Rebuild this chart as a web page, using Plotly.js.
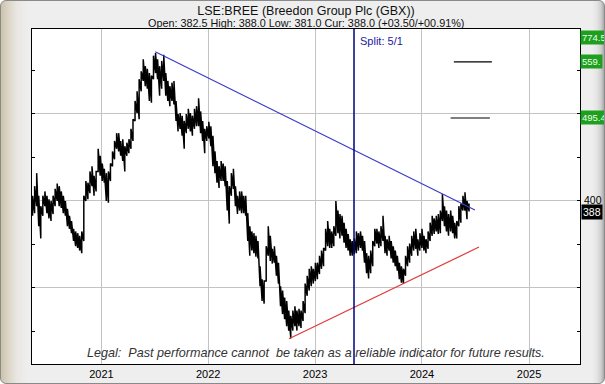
<!DOCTYPE html>
<html>
<head>
<meta charset="utf-8">
<script src="https://cdn.plot.ly/plotly-3.0.1.min.js"></script>
<style>
html,body{margin:0;padding:0;}
#frame{position:relative;width:605px;height:384px;box-sizing:border-box;border:1px solid #8a8a8a;border-radius:6px;overflow:hidden;
background:
 linear-gradient(to left,#a8a8a8 0px,#cfcfcf 3px,#e4e4e4 7px,rgba(238,238,238,0) 12px),
 linear-gradient(to right,#cdc3ab 0px,#ddd7c9 8px,#e9e7e2 16px,#eeeeee 26px,#eeeeee 100%);}
#chart{position:absolute;left:0;top:0;width:605px;height:384px;}
</style>
</head>
<body>
<div id="frame"><div id="chart"></div></div>
<script>
const weekDates = [
'2020-05-11','2020-05-18','2020-05-25','2020-06-01','2020-06-08','2020-06-15','2020-06-22','2020-06-29',
'2020-07-06','2020-07-13','2020-07-20','2020-07-27','2020-08-03','2020-08-10','2020-08-17','2020-08-24','2020-08-31',
'2020-09-07','2020-09-14','2020-09-21','2020-09-28','2020-10-05','2020-10-12','2020-10-19','2020-10-26',
'2020-11-02','2020-11-09','2020-11-16','2020-11-23','2020-11-30','2020-12-07','2020-12-14','2020-12-21','2020-12-28',
'2021-01-04','2021-01-11','2021-01-18','2021-01-25','2021-02-01','2021-02-08','2021-02-15','2021-02-22',
'2021-03-01','2021-03-08','2021-03-15','2021-03-22','2021-03-29','2021-04-05','2021-04-12','2021-04-19','2021-04-26',
'2021-05-03','2021-05-10','2021-05-17','2021-05-24','2021-05-31','2021-06-07','2021-06-14','2021-06-21','2021-06-28',
'2021-07-05','2021-07-12','2021-07-19','2021-07-26','2021-08-02','2021-08-09','2021-08-16','2021-08-23','2021-08-30',
'2021-09-06','2021-09-13','2021-09-20','2021-09-27','2021-10-04','2021-10-11','2021-10-18','2021-10-25',
'2021-11-01','2021-11-08','2021-11-15','2021-11-22','2021-11-29','2021-12-06','2021-12-13','2021-12-20','2021-12-27',
'2022-01-03','2022-01-10','2022-01-17','2022-01-24','2022-01-31','2022-02-07','2022-02-14','2022-02-21','2022-02-28',
'2022-03-07','2022-03-14','2022-03-21','2022-03-28','2022-04-04','2022-04-11','2022-04-18','2022-04-25',
'2022-05-02','2022-05-09','2022-05-16','2022-05-23','2022-05-30','2022-06-06','2022-06-13','2022-06-20','2022-06-27',
'2022-07-04','2022-07-11','2022-07-18','2022-07-25','2022-08-01','2022-08-08','2022-08-15','2022-08-22','2022-08-29',
'2022-09-05','2022-09-12','2022-09-19','2022-09-26','2022-10-03','2022-10-10','2022-10-17','2022-10-24','2022-10-31',
'2022-11-07','2022-11-14','2022-11-21','2022-11-28','2022-12-05','2022-12-12','2022-12-19','2022-12-26',
'2023-01-02','2023-01-09','2023-01-16','2023-01-23','2023-01-30','2023-02-06','2023-02-13','2023-02-20','2023-02-27',
'2023-03-06','2023-03-13','2023-03-20','2023-03-27','2023-04-03','2023-04-10','2023-04-17','2023-04-24',
'2023-05-01','2023-05-08','2023-05-15','2023-05-22','2023-05-29','2023-06-05','2023-06-12','2023-06-19','2023-06-26',
'2023-07-03','2023-07-10','2023-07-17','2023-07-24','2023-07-31','2023-08-07','2023-08-14','2023-08-21','2023-08-28',
'2023-09-04','2023-09-11','2023-09-18','2023-09-25','2023-10-02','2023-10-09','2023-10-16','2023-10-23','2023-10-30',
'2023-11-06','2023-11-13','2023-11-20','2023-11-27','2023-12-04','2023-12-11','2023-12-18','2023-12-25',
'2024-01-01','2024-01-08','2024-01-15','2024-01-22','2024-01-29','2024-02-05','2024-02-12','2024-02-19','2024-02-26',
'2024-03-04','2024-03-11','2024-03-18','2024-03-25','2024-04-01','2024-04-08','2024-04-15','2024-04-22','2024-04-29',
'2024-05-06','2024-05-13','2024-05-20','2024-05-27','2024-06-03','2024-06-10'
];
const weekHigh = [
406,417,432,406,394,406,411,406,402,400,
406,414,420,417,411,406,400,391,383,377,
368,365,363,360,365,406,423,421,434,440,
429,434,460,452,443,437,432,434,443,457,
469,478,478,469,471,463,467,471,483,494,
515,526,540,549,563,555,552,547,544,567,
570,563,555,561,568,547,538,532,536,538,
515,500,501,498,492,500,506,501,498,506,
509,518,503,492,483,486,491,486,475,457,
446,440,446,443,440,423,417,432,437,417,
406,411,411,406,406,386,371,365,363,360,
354,325,310,308,348,371,360,345,348,337,
329,302,297,289,285,274,268,274,279,274,
276,274,285,305,314,322,325,322,329,329,
337,343,346,368,377,368,365,371,400,389,
385,383,375,368,362,356,354,357,365,363,
365,360,354,340,337,343,354,368,368,365,
371,383,360,356,360,354,348,343,337,329,
325,322,337,348,351,360,365,368,356,363,
368,360,356,365,375,383,380,383,385,389,
408,394,389,385,389,383,375,377,394,397,
406,410,400,397
];
const weekLow = [
383,386,394,371,357,383,394,386,380,377,
385,394,400,394,392,386,383,371,368,363,
354,348,346,343,340,354,400,402,409,417,
406,411,434,429,423,421,400,398,423,440,
448,460,457,452,446,434,452,455,460,469,
492,501,494,526,538,532,529,515,513,540,
547,540,521,529,538,521,515,509,515,511,
492,480,483,475,460,478,483,480,475,483,
486,486,478,469,455,469,472,463,440,432,
421,415,423,423,417,389,374,406,414,394,
385,389,386,386,383,354,337,343,340,336,
334,302,285,282,308,337,331,328,329,314,
305,279,270,264,256,251,242,251,256,251,
256,254,262,271,291,297,302,305,308,310,
316,322,325,343,348,346,346,348,360,363,
357,360,352,346,343,337,337,339,340,343,
346,343,329,317,311,317,325,348,351,346,
348,354,340,337,343,334,329,325,320,310,
306,305,314,325,329,337,343,345,337,343,
346,343,340,345,354,360,362,365,362,363,
377,371,365,360,365,363,357,357,371,375,
389,389,379,388
];
const downTrendDates = ['2021-07-04','2024-06-30'];
const downTrendValues = [571.6, 389.7];
const upTrendDates = ['2022-10-04','2024-07-14'];
const upTrendValues = [241.7, 347.0];
const targetLevels = [559.8, 495.4];
const targetStart = ['2024-04-19','2024-04-08'];
const targetEnd = ['2024-08-27','2024-08-20'];
const splitDate = '2023-05-14';
const yearTicks = ['2021-01-01','2022-01-01','2023-01-01','2024-01-01','2025-01-01'];
const yearLabels = ['2021','2022','2023','2024','2025'];
const gridLevels = [300,400,500];
const minorLevels = [250,350,450,550];
const rightLabels = [{t:'559.', v:559.8, bg:'#1f9f1f'},{t:'495.4', v:495.4, bg:'#1f9f1f'}];
const currentPrice = 388.0;

const FONT = '"Liberation Sans", Arial, sans-serif';

// price path (high/low per week)
const px = [], py = [];
for (let i = 0; i < weekDates.length; i++) {
  px.push(weekDates[i], weekDates[i]);
  py.push(weekLow[i], weekHigh[i]);
}

const traces = [
  {x: px, y: py, type: 'scatter', mode: 'lines', line: {color: '#000', width: 1.5}, hoverinfo: 'skip'},
  {x: downTrendDates, y: downTrendValues, type: 'scatter', mode: 'lines', line: {color: '#3b3bcc', width: 1.2}},
  {x: upTrendDates, y: upTrendValues, type: 'scatter', mode: 'lines', line: {color: '#e23a3a', width: 1.2}}
];
for (let k = 0; k < targetLevels.length; k++) {
  traces.push({x: [targetStart[k], targetEnd[k]], y: [targetLevels[k], targetLevels[k]], type: 'scatter', mode: 'lines', line: {color: '#000', width: 1.2}});
}

const annotations = [
  {xref:'paper', yref:'paper', x:0.5, y:1.0194, xanchor:'center', yanchor:'middle', showarrow:false,
   text:'Open: 382.5 High: 388.0 Low: 381.0 Cur: 388.0 (+03.50/+00.91%)', font:{family:FONT, size:10.8, color:'#111'}},
  {xref:'x', yref:'paper', x:splitDate, y:0.963, xanchor:'left', yanchor:'middle', xshift:4, showarrow:false,
   text:'Split: 5/1', font:{family:FONT, size:11, color:'#1a1aa0'}},
  {xref:'paper', yref:'paper', x:0.518, y:0.033, xanchor:'center', yanchor:'middle', showarrow:false,
   text:'Legal:  Past performance cannot  be taken as a reliable indicator for future results.',
   font:{family:FONT, size:12.6, color:'#333', style:'italic'}},
  {xref:'paper', yref:'paper', x:1, y:1, xanchor:'left', yanchor:'top', xshift:0, yshift:-1, showarrow:false,
   text:'774.5', bgcolor:'#1f9f1f', borderpad:1, font:{family:FONT, size:9.5, color:'#eaffea'}},
  {xref:'paper', yref:'y', x:1, y:400, xanchor:'left', yanchor:'middle', xshift:2, yshift:1, showarrow:false,
   text:'400', font:{family:FONT, size:10.5, color:'#000'}},
  {xref:'paper', yref:'y', x:1, y:currentPrice, xanchor:'left', yanchor:'middle', xshift:1, yshift:-1, showarrow:false,
   text:String(currentPrice.toFixed(0)), bgcolor:'#000', borderpad:1, font:{family:FONT, size:10.5, color:'#fff'}}
];
rightLabels.forEach(r => annotations.push({xref:'paper', yref:'y', x:1, y:r.v, xanchor:'left', yanchor:'middle', xshift:0, showarrow:false,
  text:r.t, bgcolor:r.bg, borderpad:1, font:{family:FONT, size:9.5, color:'#eaffea'}}));

const layout = {
  width: 605, height: 384,
  margin: {l: 31, r: 26, t: 28, b: 21, pad: 0},
  paper_bgcolor: 'rgba(0,0,0,0)',
  plot_bgcolor: '#ffffff',
  showlegend: false,
  title: {text: 'LSE:BREE (Breedon Group Plc (GBX))', x: 0.5, xref: 'paper', y: 0.975, yref: 'container', yanchor: 'middle',
          font: {family: FONT, size: 12.5, color: '#111'}},
  xaxis: {type: 'date', range: ['2020-05-09', '2025-06-24'], tickvals: yearTicks, ticktext: yearLabels,
          showgrid: true, gridcolor: '#c3c3c3', gridwidth: 1, ticks: '', showline: true, mirror: true,
          linecolor: '#000', linewidth: 1, zeroline: false, tickfont: {family: FONT, size: 11, color: '#000'}},
  yaxis: {side: 'right', range: [212.6, 597.7], tickvals: gridLevels, showticklabels: false,
          showgrid: true, gridcolor: '#c3c3c3', gridwidth: 1, ticks: 'inside', ticklen: 3, tickcolor: '#000',
          showline: true, mirror: 'ticks', linecolor: '#000', linewidth: 1, zeroline: false,
          minor: {tickvals: minorLevels, ticks: 'inside', ticklen: 3, tickcolor: '#000', showgrid: false}},
  shapes: [
    {type: 'line', xref: 'x', yref: 'paper', x0: splitDate, x1: splitDate, y0: 0, y1: 1, line: {color: '#000080', width: 1.5}}
  ],
  annotations: annotations
};

Plotly.newPlot('chart', traces, layout, {staticPlot: true, displayModeBar: false});
</script>
</body>
</html>
